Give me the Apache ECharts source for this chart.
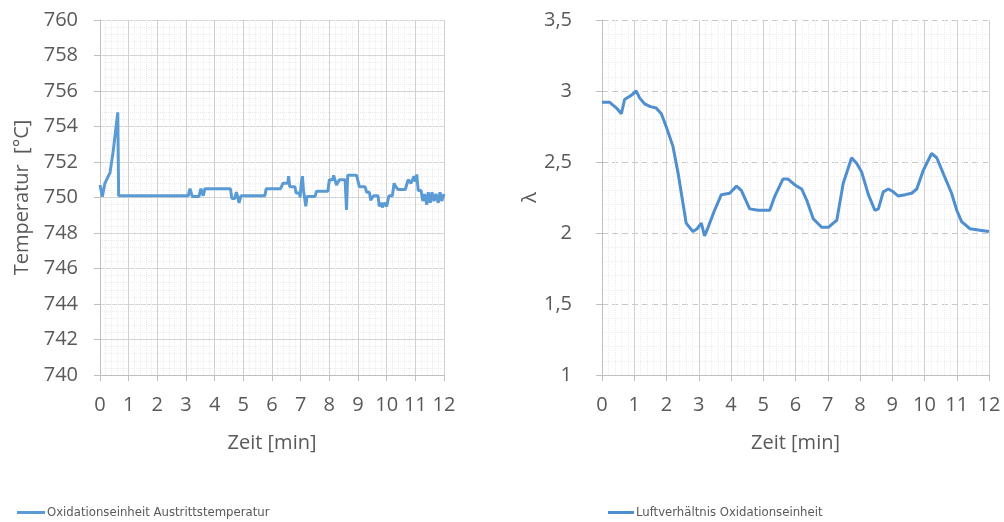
<!DOCTYPE html>
<html>
<head>
<meta charset="utf-8">
<script src="https://cdn.jsdelivr.net/npm/echarts@6/dist/echarts.min.js"></script>
<style>
  html, body { margin: 0; padding: 0; background: #ffffff; }
  #chart { width: 1004px; height: 522px; }
</style>
</head>
<body>
<div id="chart"></div>
<script>
// Outlet temperature of the oxidation unit over time [min, °C]
const tempTime = [0.00, 0.08, 0.17, 0.35, 0.46, 0.62, 0.65, 3.08, 3.14, 3.22, 3.45, 3.52, 3.60, 3.66, 4.55, 4.60, 4.70, 4.76, 4.85, 4.92, 5.00, 5.75, 5.80, 6.30, 6.38, 6.55, 6.58, 6.62, 6.80, 6.84, 6.96, 6.98, 7.02, 7.06, 7.10, 7.18, 7.22, 7.50, 7.55, 7.95, 8.00, 8.12, 8.15, 8.25, 8.35, 8.55, 8.60, 8.64, 8.95, 9.05, 9.25, 9.30, 9.40, 9.44, 9.55, 9.70, 9.74, 9.80, 9.85, 9.92, 10.00, 10.08, 10.20, 10.26, 10.32, 10.40, 10.65, 10.75, 10.85, 10.95, 11.00, 11.05, 11.10, 11.20, 11.26, 11.32, 11.40, 11.45, 11.52, 11.58, 11.65, 11.72, 11.80, 11.86, 11.92, 12.00];
const tempValues = [750.7, 750.05, 750.8, 751.4, 752.6, 754.8, 750.1, 750.1, 750.5, 750.05, 750.05, 750.5, 750.1, 750.5, 750.5, 749.95, 749.95, 750.3, 749.7, 750.1, 750.1, 750.1, 750.5, 750.5, 750.8, 750.8, 751.2, 750.6, 750.6, 750.25, 750.25, 750.0, 750.8, 751.2, 750.4, 749.5, 750.05, 750.05, 750.35, 750.35, 751.0, 751.0, 751.25, 750.7, 751.0, 751.0, 749.3, 751.25, 751.25, 750.6, 750.6, 750.3, 750.3, 749.85, 750.1, 750.1, 749.5, 749.7, 749.45, 749.7, 749.5, 750.1, 750.1, 750.8, 750.6, 750.45, 750.45, 751.0, 750.8, 751.2, 750.9, 751.3, 750.4, 750.4, 749.8, 750.2, 749.6, 750.3, 749.7, 750.3, 749.8, 750.2, 749.7, 750.3, 749.8, 750.2];

// Air ratio (lambda) of the oxidation unit over time [min, -]
const lambdaTime = [0, 0.24, 0.45, 0.6, 0.7, 0.91, 1.06, 1.17, 1.32, 1.5, 1.68, 1.84, 1.99, 2.2, 2.36, 2.51, 2.61, 2.82, 2.95, 3.08, 3.18, 3.29, 3.49, 3.70, 3.96, 4.17, 4.32, 4.58, 4.84, 5.2, 5.36, 5.61, 5.77, 5.97, 6.19, 6.35, 6.55, 6.81, 7.02, 7.17, 7.28, 7.48, 7.74, 7.90, 8.05, 8.26, 8.46, 8.57, 8.72, 8.88, 9.03, 9.19, 9.40, 9.60, 9.76, 9.96, 10.22, 10.38, 10.58, 10.84, 11.0, 11.15, 11.41, 11.72, 12.0];
const lambdaValues = [2.92, 2.92, 2.88, 2.84, 2.94, 2.97, 3.0, 2.95, 2.91, 2.89, 2.88, 2.84, 2.75, 2.61, 2.42, 2.21, 2.07, 2.01, 2.03, 2.07, 1.98, 2.04, 2.16, 2.27, 2.28, 2.33, 2.30, 2.17, 2.16, 2.16, 2.26, 2.38, 2.38, 2.34, 2.31, 2.23, 2.10, 2.04, 2.04, 2.07, 2.09, 2.35, 2.53, 2.49, 2.43, 2.27, 2.16, 2.17, 2.29, 2.31, 2.29, 2.26, 2.27, 2.28, 2.31, 2.44, 2.56, 2.53, 2.42, 2.28, 2.16, 2.08, 2.03, 2.02, 2.01];

const tempName = 'Oxidationseinheit Austrittstemperatur';
const lambdaName = 'Luftverhältnis Oxidationseinheit';

const textColor = '#595959';
const axisGray = '#bfbfbf';
const lineBlue = '#5b9bd5';
const labelFont = '"Open Sans", "Noto Sans", sans-serif';
const legendFont = '"Liberation Sans Narrow", "DejaVu Sans Condensed", sans-serif';

const zip = (xs, ys) => xs.map((x, i) => [x, ys[i]]);

function xAxisFor(gridIndex) {
  return {
    gridIndex,
    type: 'value',
    min: 0, max: 12, interval: 1,
    name: 'Zeit [min]',
    nameLocation: 'middle',
    nameGap: 58,
    nameTextStyle: { color: textColor, fontSize: 20, fontFamily: labelFont },
    axisLine: { show: true, lineStyle: { color: axisGray, width: 1 } },
    axisTick: { show: true, length: 6, lineStyle: { color: axisGray } },
    axisLabel: { color: textColor, fontSize: 20, fontFamily: labelFont, margin: 20 },
    splitLine: { show: true, lineStyle: { color: '#d0d0d0', width: 1 } },
    minorTick: { show: false, splitNumber: 5 },
    minorSplitLine: { show: true, lineStyle: { color: '#ececec', type: 'dotted' } }
  };
}

const option = {
  backgroundColor: '#ffffff',
  animation: false,
  grid: [
    { left: 100, right: 560, top: 20, bottom: 147 },
    { left: 602, right: 15, top: 20, bottom: 147 }
  ],
  xAxis: [xAxisFor(0), xAxisFor(1)],
  yAxis: [
    {
      gridIndex: 0,
      type: 'value',
      min: 740, max: 760, interval: 2,
      name: 'Temperatur  [°C]',
      nameLocation: 'middle',
      nameGap: 68,
      nameTextStyle: { color: textColor, fontSize: 20, fontFamily: labelFont },
      axisLine: { show: true, lineStyle: { color: axisGray } },
      axisTick: { show: true, length: 6, lineStyle: { color: axisGray } },
      axisLabel: { color: textColor, fontSize: 20, fontFamily: labelFont, margin: 22 },
      splitLine: { show: true, lineStyle: { color: '#d6d6d6' } },
      minorTick: { show: false, splitNumber: 5 },
      minorSplitLine: { show: true, lineStyle: { color: '#ececec', type: 'dotted' } }
    },
    {
      gridIndex: 1,
      type: 'value',
      min: 1, max: 3.5, interval: 0.5,
      name: 'λ',
      nameLocation: 'middle',
      nameGap: 56,
      nameTextStyle: { color: textColor, fontSize: 20, fontFamily: labelFont },
      axisLine: { show: true, lineStyle: { color: axisGray } },
      axisTick: { show: true, length: 6, lineStyle: { color: axisGray } },
      axisLabel: {
        color: textColor, fontSize: 20, fontFamily: labelFont, margin: 30,
        formatter: v => String(v).replace('.', ',')
      },
      splitLine: { show: true, lineStyle: { color: '#c8c8c8', type: [6, 4] } },
      minorTick: { show: false, splitNumber: 5 },
      minorSplitLine: { show: true, lineStyle: { color: '#ececec', type: 'dotted' } }
    }
  ],
  legend: [
    {
      data: [tempName],
      left: 12, top: 501,
      icon: 'rect', itemWidth: 28, itemHeight: 3, itemGap: 2,
      textStyle: { color: textColor, fontSize: 13, fontFamily: legendFont, padding: [0, 0, 0, -3] }
    },
    {
      data: [lambdaName],
      left: 603, top: 501,
      icon: 'rect', itemWidth: 26, itemHeight: 3, itemGap: 2,
      textStyle: { color: textColor, fontSize: 13, fontFamily: legendFont, padding: [0, 0, 0, -3] }
    }
  ],
  series: [
    {
      name: tempName,
      type: 'line',
      xAxisIndex: 0, yAxisIndex: 0,
      data: zip(tempTime, tempValues),
      showSymbol: false,
      symbol: 'none',
      color: lineBlue,
      lineStyle: { color: lineBlue, width: 3 }
    },
    {
      name: lambdaName,
      type: 'line',
      xAxisIndex: 1, yAxisIndex: 1,
      data: zip(lambdaTime, lambdaValues),
      showSymbol: false,
      symbol: 'none',
      color: '#4f8fcf',
      lineStyle: { color: '#4f8fcf', width: 3 }
    }
  ]
};

const chart = echarts.init(document.getElementById('chart'), null, { renderer: 'canvas' });
chart.setOption(option);
</script>
</body>
</html>
